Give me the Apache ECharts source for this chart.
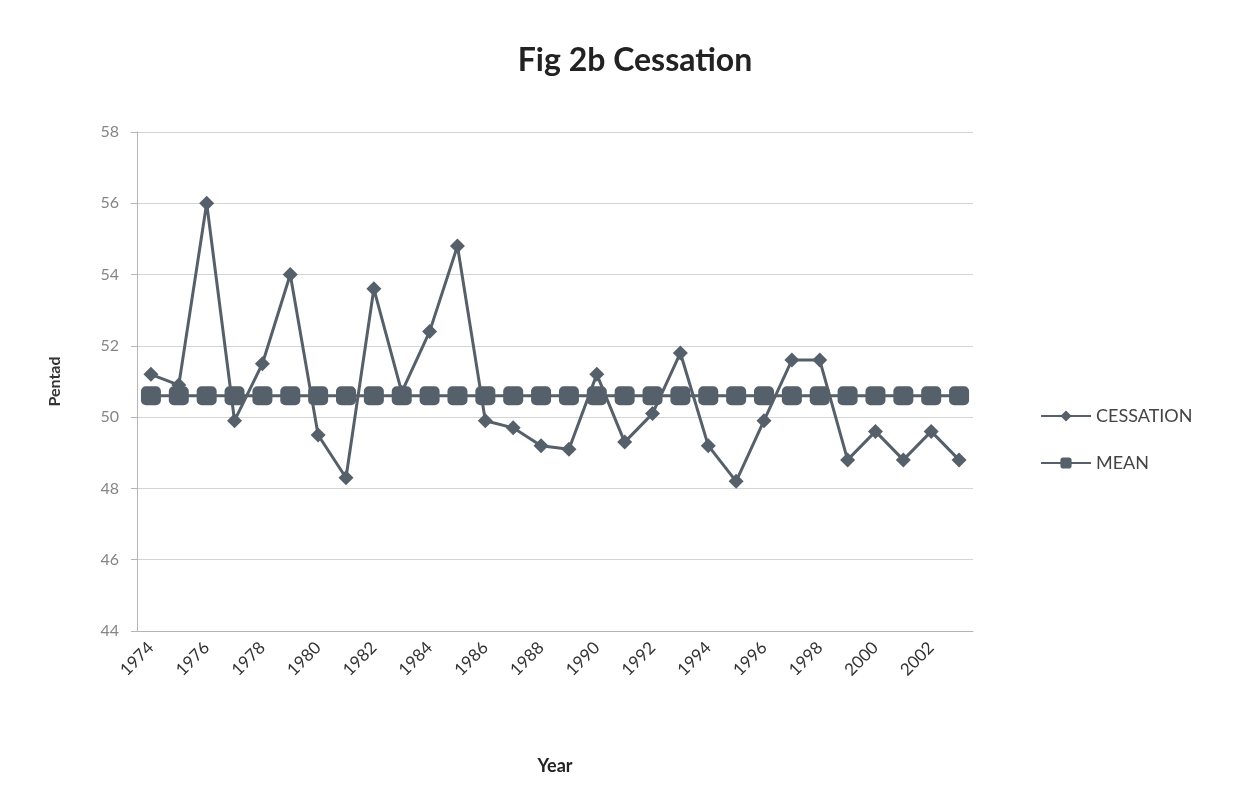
<!DOCTYPE html>
<html>
<head>
<meta charset="UTF-8">
<title>Fig 2b Cessation</title>
<script src="https://cdn.jsdelivr.net/npm/echarts@6/dist/echarts.min.js"></script>
<style>
  html, body { margin: 0; padding: 0; background: #fff; }
  #main { width: 1248px; height: 787px; }
</style>
</head>
<body>
<div id="main"></div>
<script type="text/javascript">
// years on the x axis
var years = [];
for (var y = 1974; y <= 2003; y++) { years.push(String(y)); }

// cessation pentad per year
var cessation = [51.2, 50.9, 56.0, 49.9, 51.5, 54.0, 49.5, 48.3, 53.6, 50.7,
                 52.4, 54.8, 49.9, 49.7, 49.2, 49.1, 51.2, 49.3, 50.1, 51.8,
                 49.2, 48.2, 49.9, 51.6, 51.6, 48.8, 49.6, 48.8, 49.6, 48.8];

// long-term mean, same for every year
var meanVal = [];
for (var i = 0; i < years.length; i++) { meanVal.push(50.6); }

var yTicks = { min: 44, max: 58, step: 2 };

var lineColor = '#56606a';
var fontName = 'Lato, "Open Sans", sans-serif';

var myChart = echarts.init(document.getElementById('main'));
var option = {
    backgroundColor: '#ffffff',
    animation: false,
    title: {
        text: 'Fig 2b Cessation',
        left: 630,
        textAlign: 'center',
        top: 40,
        textStyle: { fontFamily: fontName, fontSize: 32, fontWeight: 'bold', color: '#222' }
    },
    legend: {
        orient: 'vertical',
        left: 1035,
        top: 402,
        itemGap: 29,
        itemWidth: 50,
        itemHeight: 14,
        textStyle: { fontFamily: fontName, fontSize: 18, color: '#444' },
        data: ['CESSATION', 'MEAN']
    },
    grid: { left: 137, right: 275, top: 132, bottom: 156 },
    xAxis: {
        type: 'category',
        data: years,
        boundaryGap: true,
        name: 'Year',
        nameLocation: 'middle',
        nameGap: 126,
        nameTextStyle: { fontFamily: fontName, fontSize: 18, fontWeight: 'bold', color: '#222' },
        axisLine: { lineStyle: { color: '#b5b5b5' } },
        axisTick: { show: false },
        axisLabel: {
            interval: 1,
            rotate: 45,
            margin: 14,
            fontFamily: fontName,
            fontSize: 17,
            color: '#333'
        }
    },
    yAxis: {
        type: 'value',
        min: yTicks.min,
        max: yTicks.max,
        interval: yTicks.step,
        name: 'Pentad',
        nameLocation: 'middle',
        nameGap: 74,
        nameRotate: 90,
        nameTextStyle: { fontFamily: fontName, fontSize: 16, fontWeight: 'bold', color: '#333' },
        axisLine: { show: true, lineStyle: { color: '#b5b5b5' } },
        axisTick: { show: true, length: 6, lineStyle: { color: '#b5b5b5' } },
        axisLabel: { margin: 18, fontFamily: fontName, fontSize: 16, color: '#858585' },
        splitLine: { lineStyle: { color: '#d4d4d4', width: 1 } }
    },
    series: [
        {
            name: 'CESSATION',
            type: 'line',
            data: cessation,
            symbol: 'diamond',
            symbolSize: 15,
            showAllSymbol: true,
            z: 3,
            lineStyle: { color: lineColor, width: 3 },
            itemStyle: { color: lineColor }
        },
        {
            name: 'MEAN',
            type: 'line',
            data: meanVal,
            symbol: 'roundRect',
            symbolSize: [20, 19],
            showAllSymbol: true,
            z: 2,
            lineStyle: { color: lineColor, width: 3 },
            itemStyle: { color: lineColor }
        }
    ]
};
myChart.setOption(option);
</script>
</body>
</html>
